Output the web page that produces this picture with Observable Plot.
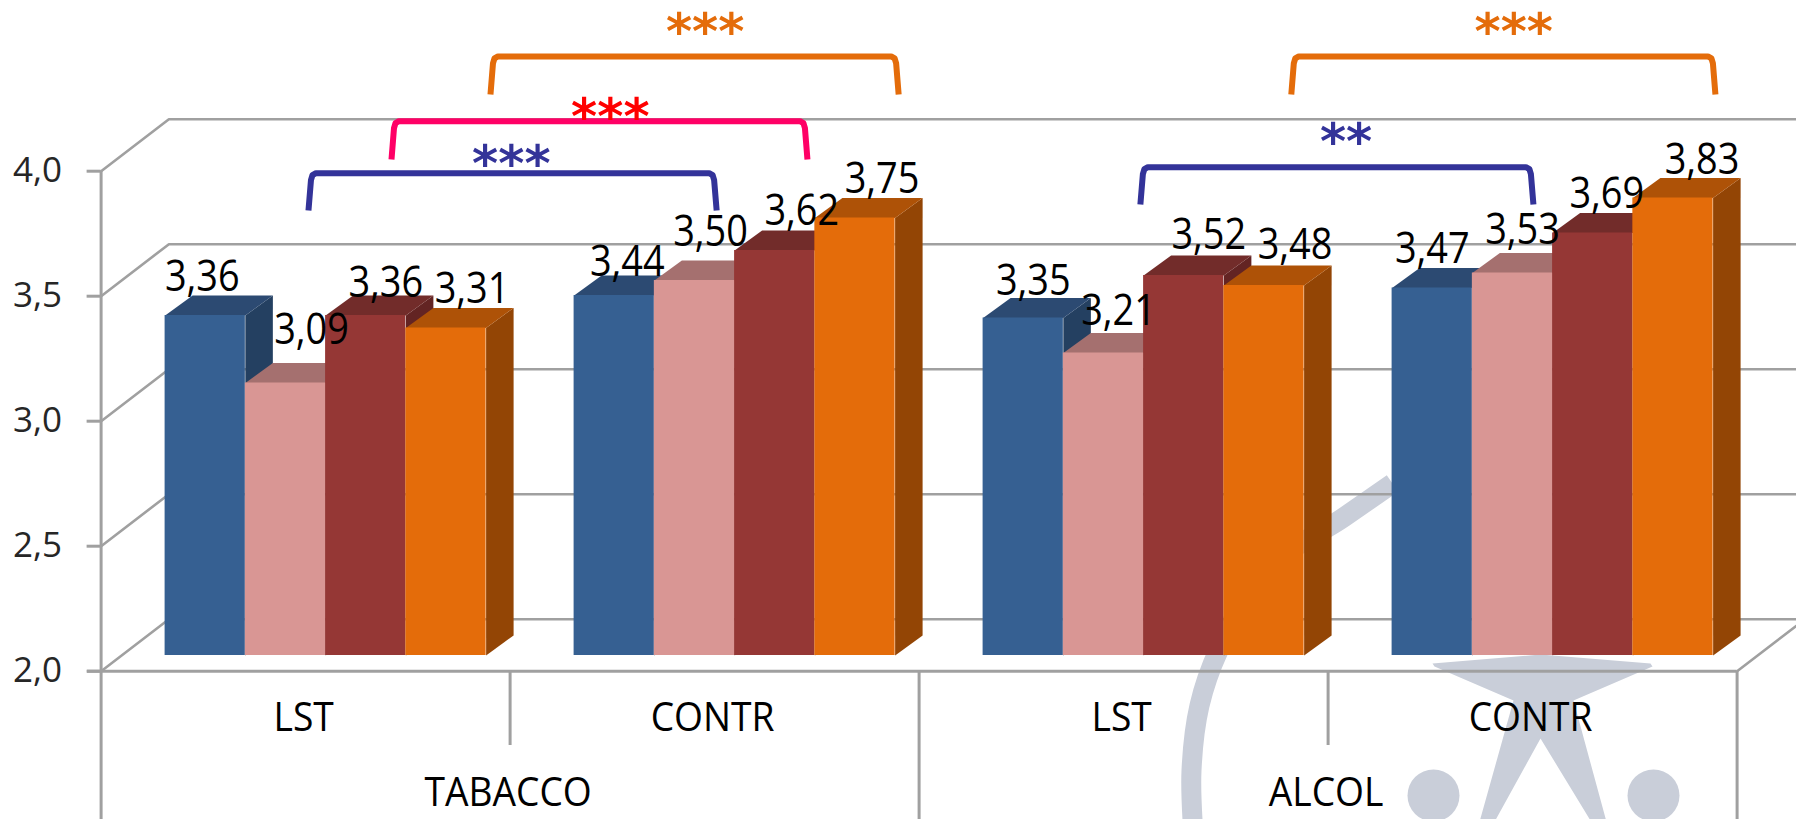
<!DOCTYPE html>
<html>
<head>
<meta charset="utf-8">
<style>
  html, body { margin: 0; padding: 0; background: #fff; overflow: hidden; }
  svg { display: block; }
</style>
<script src="https://cdn.jsdelivr.net/npm/d3@7"></script>
<script src="https://cdn.jsdelivr.net/npm/@observablehq/plot@0.6"></script>
</head>
<body>
<div id="chart"></div>
<script>
// Mean scores per substance and group
const substances = ["TABACCO", "ALCOL"];
const groups = ["LST", "CONTR", "LST", "CONTR"];
const seriesBlue = [3.36, 3.44, 3.35, 3.47];
const seriesPink = [3.09, 3.50, 3.21, 3.53];
const seriesRed = [3.36, 3.62, 3.52, 3.69];
const seriesOrange = [3.31, 3.75, 3.48, 3.83];
const series = [seriesBlue, seriesPink, seriesRed, seriesOrange];
const yTicks = [2, 2.5, 3, 3.5, 4];

// Significance brackets, in chart units
const bracketFrom = [0.952, 0.710, 0.507, 2.910, 2.541];
const bracketTo = [1.950, 1.727, 1.505, 3.947, 3.502];
const bracketTop = [4.459, 4.200, 3.992, 4.459, 4.016];
const bracketBottom = [4.307, 4.047, 3.843, 4.307, 3.867];
const bracketStars = ["***", "***", "***", "***", "**"];
const bracketStroke = ["#e46c0a", "#ff0066", "#333399", "#e46c0a", "#333399"];
const starFill = ["#e46c0a", "#ff0000", "#333399", "#e46c0a", "#333399"];
const starX = [1.477, 1.245, 1.003, 3.454, 3.044];
const starY = [4.553, 4.213, 4.025, 4.553, 4.113];

// Face colours of each series: front, top, side
const frontFill = ["#366092", "#d99694", "#953735", "#e46c0a"];
const topFill = ["#2c4a72", "#a5706f", "#722c2a", "#ae5207"];
const sideFill = ["#244061", "#8f5f5e", "#632423", "#934505"];

// Hand placement of the value labels relative to the top of each bar, in pixels
const nudgeX = [
  [-3, 13, 10, 0],
  [26, 16, 15, 10],
  [20, 27, 25, 14],
  [26, 27, 31, 29]
];
const nudgeY = [
  [-39, -34, -37, -39],
  [-53, -49, -42, -43],
  [-33, -40, -41, -39],
  [-39, -39, -41, -38]
];

// Frame of the plot
const width = 1796, height = 819;
const marginLeft = 100.6, marginRight = 59.4, marginTop = 170.7, marginBottom = 148.3;
const pxX = (width - marginLeft - marginRight) / 4;
const pxY = (height - marginTop - marginBottom) / 2;
const toX = (px) => (px - marginLeft) / pxX;
const toY = (py) => 2 + (height - marginBottom - py) / pxY;

// Perspective: wall offset and bar depth, in chart units
const wallX = 67.8 / pxX, wallY = 52 / pxY;
const depthX = 27.5 / pxX, depthY = 20 / pxY;
const barStart = 64 / pxX, barWidth = 80.25 / pxX;
const barLift = -15.7; // bars stand in the middle of the floor

const grid = "#a0a0a0";
const logo = "#c9ced9";
const px = (d) => d[0], py = (d) => d[1];

function polygon(points, fill) {
  return Plot.line(points, {x: px, y: py, fill, stroke: "none", curve: "linear-closed", dy: barLift});
}

function bracket(i) {
  const a = bracketFrom[i], b = bracketTo[i], t = bracketTop[i], u = bracketBottom[i];
  const ex = 1 / pxX, ey = 1 / pxY;
  return Plot.line(
    [[a, u], [a + 2.5 * ex, t - 7 * ey], [a + 4 * ex, t - 2 * ey], [a + 7.5 * ex, t],
     [b - 7.5 * ex, t], [b - 4 * ex, t - 2 * ey], [b - 2.5 * ex, t - 7 * ey], [b, u]],
    {x: px, y: py, stroke: bracketStroke[i], strokeWidth: 6, strokeLinecap: "butt", strokeLinejoin: "round"}
  );
}

// Background emblem: sweeping arc, figure with spread arms and two dots
const emblem = [
  Plot.line(
    [[1193, 835], [1191, 770], [1199, 705], [1218, 650], [1265, 570], [1343, 517], [1392, 483]].map(([a, b]) => [toX(a), toY(b)]),
    {x: px, y: py, stroke: logo, strokeWidth: 20, strokeLinecap: "butt", curve: "catmull-rom"}
  ),
  Plot.line(
    [[1432, 663], [1540, 654], [1650, 663], [1652, 666], [1573, 700], [1607, 825], [1593, 825], [1540, 738],
     [1492, 825], [1478, 825], [1513, 700], [1434, 666]].map(([a, b]) => [toX(a), toY(b)]),
    {x: px, y: py, fill: logo, stroke: "none", curve: "linear-closed"}
  ),
  Plot.dot([[1433, 795], [1653, 795]].map(([a, b]) => [toX(a), toY(b)]), {x: px, y: py, r: 26, fill: logo, stroke: "none"})
];

// Back wall gridlines, folded along the left wall
const gridlines = yTicks.map((v) =>
  Plot.line([[0, v], [wallX, v + wallY], [4 + wallX, v + wallY]], {x: px, y: py, stroke: grid, strokeWidth: 2.6, strokeLinejoin: "miter"})
);

// Every bar is painted left to right so later faces cover earlier sides
const bars = groups.flatMap((_, g) =>
  series.flatMap((values, s) => {
    const x1 = g + barStart + s * barWidth, x2 = x1 + barWidth, v = values[g];
    return [
      polygon([[x2, 2], [x2 + depthX, 2 + depthY], [x2 + depthX, v + depthY], [x2, v]], sideFill[s]),
      polygon([[x1, v], [x1 + depthX, v + depthY], [x2 + depthX, v + depthY], [x2, v]], topFill[s]),
      Plot.rect([values[g]], {x1, x2, y1: 2, y2: (d) => d, fill: frontFill[s], dy: barLift})
    ];
  })
);

const valueLabels = groups.flatMap((_, g) =>
  series.map((values, s) => {
    const x = g + barStart + (s + 0.5) * barWidth;
    return Plot.text([values[g]], {
      x, y: (d) => d,
      text: (d) => d3.format(".2f")(d).replace(".", ","),
      dx: nudgeX[s][g], dy: nudgeY[s][g] + barLift,
      fontSize: 44, fill: "#000", fontFamily: "Open Sans", lineAnchor: "middle"
    });
  })
);

const chart = Plot.plot({
  width, height, marginLeft, marginRight, marginTop, marginBottom,
  x: {domain: [0, 4], axis: null},
  y: {domain: [2, 4], axis: null},
  style: {fontFamily: "Open Sans", background: "#fff", overflow: "hidden"},
  marks: [
    ...emblem,
    ...gridlines,
    Plot.ruleY([2], {x1: toX(87), x2: 4, stroke: grid, strokeWidth: 3}),
    Plot.line([[4, 2], [4 + wallX, 2 + wallY]], {x: px, y: py, stroke: grid, strokeWidth: 2.6}),
    Plot.ruleX([0], {y1: 4, y2: toY(830), stroke: grid, strokeWidth: 3}),
    Plot.ruleX([2, 4], {y1: 2, y2: toY(830), stroke: grid, strokeWidth: 3}),
    Plot.ruleX([1, 3], {y1: 2, y2: toY(745), stroke: grid, strokeWidth: 3}),
    Plot.axisY(yTicks, {
      anchor: "left", label: null, tickSize: 14, tickPadding: 25, fontSize: 35,
      stroke: grid, strokeWidth: 3, fill: "#262626",
      tickFormat: (d) => d3.format(".1f")(d).replace(".", ",")
    }),
    ...bars,
    ...valueLabels,
    Plot.text(groups, {
      x: (_, i) => i + 0.5, y: toY(718), text: (d) => d, dx: -2,
      fontSize: 40, fill: "#000", fontFamily: "Open Sans", lineAnchor: "middle"
    }),
    Plot.text(substances, {
      x: (_, i) => 2 * i + 1, y: toY(793), text: (d) => d, dx: -2,
      fontSize: 40, fill: "#000", fontFamily: "Open Sans", lineAnchor: "middle"
    }),
    ...bracketFrom.map((_, i) => bracket(i)),
    ...bracketStars.map((stars, i) =>
      Plot.text([stars], {
        x: starX[i], y: starY[i], text: (d) => d,
        fontSize: 50, fontWeight: "bold", fill: starFill[i], fontFamily: "DejaVu Sans", lineAnchor: "middle"
      })
    )
  ]
});

document.getElementById("chart").append(chart);

// Tall, narrow lettering of the bar values and category names
function condense(selector, factor) {
  chart.querySelectorAll(selector).forEach((t) => {
    t.setAttribute("textLength", t.getComputedTextLength() * factor);
    t.setAttribute("lengthAdjust", "spacingAndGlyphs");
  });
}
condense('g[font-size="44"] text', 0.86);
condense('g[font-size="40"] text', 0.93);
</script>
</body>
</html>
